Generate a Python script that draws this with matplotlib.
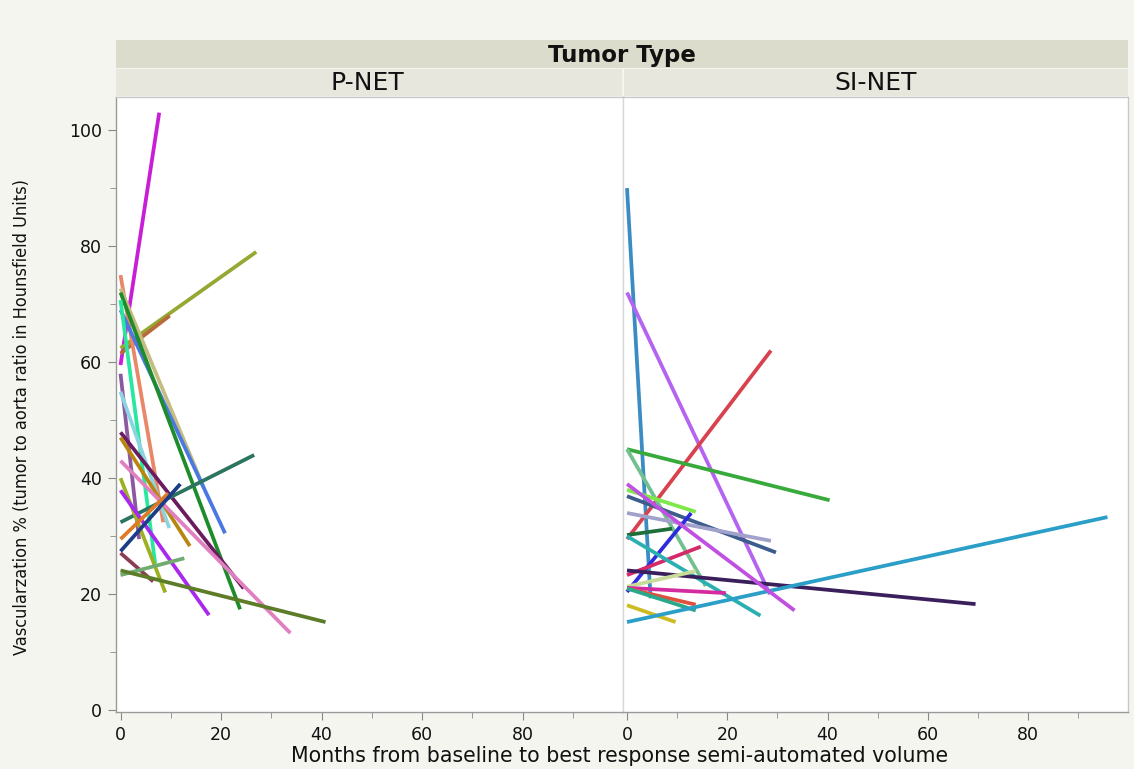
import matplotlib
matplotlib.use("Agg")
import matplotlib.pyplot as plt
from matplotlib.patches import Rectangle
from matplotlib.ticker import MultipleLocator
from matplotlib import font_manager

# ---------------- data ----------------
panels = ["P-NET", "SI-NET"]

pnet_x0 = [0, 0, 0, 0, 0, 0, 0, 0, 0, 0, 0, 0, 0, 0, 0, 0, 0, 0, 0, 0, 0]
pnet_y0 = [59.5, 62.4, 61.5, 75, 72.7, 69, 72, 70.7, 58, 54.9, 47.9, 47, 43, 32.4,
           40, 37.9, 29.5, 27.4, 27.1, 23.3, 24.1]
pnet_x1 = [7.7, 27, 9.8, 8.5, 16.6, 20.8, 23.8, 6.9, 3.7, 9.7, 24.5, 13.8, 33.8, 26.6,
           8.9, 17.6, 9.5, 11.9, 6.5, 12.7, 40.8]
pnet_y1 = [103, 79, 68, 32.4, 38.3, 30.5, 17.4, 25.3, 29.5, 31.4, 21.0, 28.3, 13.3, 44,
           20.3, 16.4, 37.4, 39, 22.2, 26.2, 15.2]
pnet_colors = ["#c81ed8", "#94a832", "#b86a3c", "#e88868", "#c4bc80", "#4a78e0",
               "#1e8c2a", "#28e8a0", "#8c58a4", "#8cd4e0", "#6a1c5e", "#b8860e",
               "#e080c0", "#2c7462", "#9cb020", "#a828f0", "#e07a28", "#1c3c88",
               "#8c3c54", "#70ac70", "#5c7c28"]

sinet_x0 = [0] * 20
sinet_y0 = [90, 72, 29.5, 45, 45, 38, 36.9, 34, 30.2, 20.4, 23.3, 30, 24.1, 21.3,
            21.1, 21, 21, 18.1, 15.2, 39]
sinet_x1 = [4.7, 28.5, 28.7, 40.4, 15.7, 13.7, 29.7, 28.7, 9, 12.8, 14.7, 26.6, 69.5,
            13.7, 19.7, 13.7, 13.7, 9.7, 95.8, 33.4]
sinet_y1 = [19.3, 20, 62, 36.2, 21.4, 34.2, 27.2, 29.2, 31.3, 34, 28.2, 16.3, 18.3,
            24, 20.2, 18.2, 17.2, 15.2, 33.3, 17.2]
sinet_colors = ["#3c8cc4", "#b464f0", "#d8424e", "#38aa3c", "#70c090", "#7ee84a",
                "#3c5c8c", "#a0a2cc", "#1e6e3a", "#2c2cdc", "#d42a6a", "#2ab0b0",
                "#3a1f5c", "#c8dc9a", "#d42ca0", "#e0503c", "#2aa88a", "#ccbb22",
                "#2b9fc8", "#c050e0"]

x_ticks = [0, 20, 40, 60, 80]
y_ticks = [0, 20, 40, 60, 80, 100]

# ---------------- fonts ----------------
names = {f.name for f in font_manager.fontManager.ttflist}
cond_files = [f for f in font_manager.fontManager.ttflist
              if f.name == "DejaVu Sans" and str(f.stretch) in ("condensed", "semi-condensed", "600", "500")]
if cond_files:
    narrow_kw = dict(family=["DejaVu Sans"], stretch="condensed")
elif "Liberation Sans Narrow" in names:
    narrow_kw = dict(family=["Liberation Sans Narrow", "DejaVu Sans"])
else:
    narrow_kw = dict(family=["Liberation Sans", "DejaVu Sans"])
wide = ["DejaVu Sans"]

# ---------------- figure ----------------
W, H = 1134, 769
fig = plt.figure(figsize=(W / 100, H / 100), dpi=100)
fig.patch.set_facecolor("#f5f5f0")

def fx(px):
    return px / W

def fy(py):
    return 1 - py / H

left_px, mid_px, right_px = 116, 622.5, 1128
top_px, bot_px = 97, 712

ax_l = fig.add_axes([fx(left_px), fy(bot_px), fx(mid_px - left_px), (bot_px - top_px) / H])
ax_r = fig.add_axes([fx(mid_px), fy(bot_px), fx(right_px - mid_px), (bot_px - top_px) / H])

data = [
    (ax_l, pnet_x0, pnet_y0, pnet_x1, pnet_y1, pnet_colors),
    (ax_r, sinet_x0, sinet_y0, sinet_x1, sinet_y1, sinet_colors),
]

for ax, x0, y0, x1, y1, cols in data:
    ax.set_facecolor("white")
    for a, b, c, d, col in zip(x0, y0, x1, y1, cols):
        ax.plot([a, c], [b, d], color=col, lw=2.7, solid_capstyle="butt")
    ax.set_xlim(-0.9, 99.9)
    ax.set_ylim(-0.3, 105.7)
    ax.set_xticks(x_ticks)
    ax.xaxis.set_minor_locator(MultipleLocator(10))
    ax.set_yticks(y_ticks)
    ax.yaxis.set_minor_locator(MultipleLocator(10))
    ax.tick_params(axis="both", which="major", length=6, color="#888888",
                   labelsize=12.5, labelcolor="#111111", pad=4)
    ax.tick_params(axis="both", which="minor", length=4, color="#888888")
    for lab in ax.get_xticklabels() + ax.get_yticklabels():
        lab.set_family(wide)
    for s in ax.spines.values():
        s.set_color("#c8c8c8")
        s.set_linewidth(1.0)
    ax.spines["bottom"].set_color("#999999")

ax_l.spines["left"].set_color("#999999")
ax_r.tick_params(axis="y", which="both", left=False, labelleft=False)
ax_r.spines["left"].set_color("#d8d8d8")
ax_l.spines["right"].set_color("#d8d8d8")

# ---------------- header bands ----------------
band1_top, band1_bot = 40, 68
band2_top, band2_bot = 68, 96
fig.patches.append(Rectangle((fx(left_px), fy(band1_bot)), fx(right_px - left_px),
                             (band1_bot - band1_top) / H, transform=fig.transFigure,
                             facecolor="#dcdccd", edgecolor="none", zorder=0))
fig.patches.append(Rectangle((fx(left_px), fy(band2_bot)), fx(mid_px - left_px - 1),
                             (band2_bot - band2_top - 1) / H, transform=fig.transFigure,
                             facecolor="#e7e7dd", edgecolor="none", zorder=0))
fig.patches.append(Rectangle((fx(mid_px + 1), fy(band2_bot)), fx(right_px - mid_px - 1),
                             (band2_bot - band2_top - 1) / H, transform=fig.transFigure,
                             facecolor="#e7e7dd", edgecolor="none", zorder=0))

fig.text(fx(622), fy(55.5), "Tumor Type", ha="center", va="center",
         fontsize=16.5, fontweight="bold", color="#111111", family=wide)
fig.text(fx(367), fy(83), panels[0], ha="center", va="center",
         fontsize=18, color="#111111", family=wide)
fig.text(fx(876), fy(83), panels[1], ha="center", va="center",
         fontsize=18, color="#111111", family=wide)

fig.text(fx(620), fy(756), "Months from baseline to best response semi-automated volume",
         ha="center", va="center", fontsize=14.8, color="#111111", family=wide)
fig.text(fx(22), fy(417), "Vascularzation % (tumor to aorta ratio in Hounsfield Units)",
         ha="center", va="center", rotation=90, fontsize=13, color="#111111", **narrow_kw)

fig.savefig("out.png", dpi=100, facecolor=fig.get_facecolor())
